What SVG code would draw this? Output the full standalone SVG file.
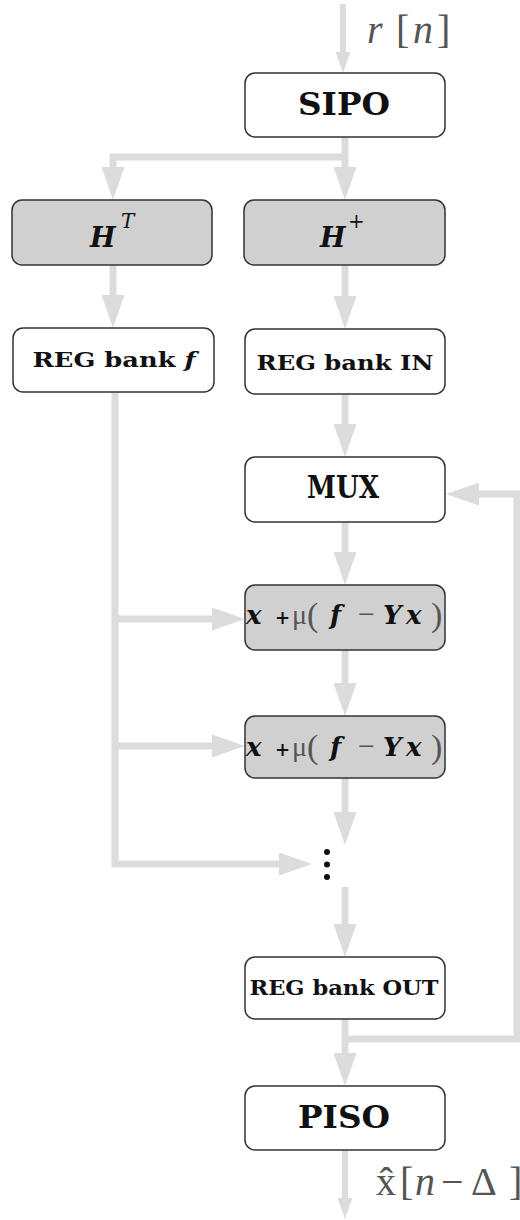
<svg xmlns="http://www.w3.org/2000/svg" width="520" height="1220" viewBox="0 0 520 1220">
<style>
.box{fill:#ffffff;stroke:#333333;stroke-width:1.5}
.gbox{fill:#d0d0d0;stroke:#333333;stroke-width:1.5}
.ln{fill:none;stroke:#dcdcdc;stroke-width:7;stroke-linejoin:miter}
.ln2{fill:none;stroke:#dcdcdc;stroke-width:6}
.mono{font-family:"DejaVu Serif","Liberation Serif",serif;font-weight:bold;fill:#111111}
.math{font-family:"Liberation Serif","Times New Roman",serif;fill:#555555}
.bi{font-family:"DejaVu Serif","Liberation Serif",serif;font-weight:bold;font-style:italic;fill:#111111}
</style>
<defs>
<marker id="ah" markerUnits="userSpaceOnUse" markerWidth="33" markerHeight="23" refX="1" refY="11.5" orient="auto">
<path d="M0,0 L33,11.5 L0,23 Z" fill="#dcdcdc"/>
</marker>
<marker id="ahs" markerUnits="userSpaceOnUse" markerWidth="21" markerHeight="15" refX="1" refY="7.5" orient="auto">
<path d="M0,0 L21,7.5 L0,15 Z" fill="#dcdcdc"/>
</marker>
</defs>

<g id="connectors">
<path class="ln2" d="M343,4 V53" marker-end="url(#ahs)"/>
<path class="ln" d="M345,137 V168" marker-end="url(#ah)"/>
<path class="ln" d="M345,157 H113 V168" marker-end="url(#ah)"/>
<path class="ln" d="M113,265 V296" marker-end="url(#ah)"/>
<path class="ln" d="M345,265 V297" marker-end="url(#ah)"/>
<path class="ln" d="M345,394 V425" marker-end="url(#ah)"/>
<path class="ln" d="M345,522 V553" marker-end="url(#ah)"/>
<path class="ln" d="M345,650 V684" marker-end="url(#ah)"/>
<path class="ln" d="M345,778 V813" marker-end="url(#ah)"/>
<path class="ln" d="M115,392 V864 H280" marker-end="url(#ah)"/>
<path class="ln" d="M115,619 H213" marker-end="url(#ah)"/>
<path class="ln" d="M115,746 H213" marker-end="url(#ah)"/>
<path class="ln" d="M345,887 V925" marker-end="url(#ah)"/>
<path class="ln" d="M345,1019 V1054" marker-end="url(#ah)"/>
<path class="ln" d="M345,1039 H517 V494 H478" marker-end="url(#ah)"/>
<path class="ln2" d="M345,1150 V1199" marker-end="url(#ahs)"/>
</g>

<g id="label-in">
<text class="math" font-size="40" y="43"><tspan x="367" font-style="italic">r</tspan><tspan x="396">[</tspan><tspan x="413" font-style="italic">n</tspan><tspan x="437">]</tspan></text>
</g>

<g id="sipo">
<rect class="box" x="245" y="73" width="200" height="64" rx="10"/>
<text class="mono" x="344" y="115" font-size="31" text-anchor="middle" textLength="92" lengthAdjust="spacingAndGlyphs">SIPO</text>
</g>

<g id="ht">
<rect class="gbox" x="12" y="200" width="200" height="65" rx="10"/>
<text class="bi" y="247" font-size="27"><tspan x="90">H</tspan><tspan x="121" y="228" font-size="20" font-weight="normal">T</tspan></text>
</g>

<g id="hplus">
<rect class="gbox" x="244" y="200" width="201" height="65" rx="10"/>
<text class="bi" y="247" font-size="27"><tspan x="320">H</tspan><tspan x="348" y="228" font-size="20" font-style="normal" font-weight="normal">+</tspan></text>
</g>

<g id="regf">
<rect class="box" x="13" y="328" width="201" height="64" rx="10"/>
<text class="mono" x="114" y="367" font-size="21" text-anchor="middle" textLength="163" lengthAdjust="spacingAndGlyphs">REG bank <tspan font-style="italic">f</tspan></text>
</g>

<g id="regin">
<rect class="box" x="245" y="329" width="200" height="65" rx="10"/>
<text class="mono" x="345" y="370" font-size="21" text-anchor="middle" textLength="177" lengthAdjust="spacingAndGlyphs">REG bank IN</text>
</g>

<g id="mux">
<rect class="box" x="245" y="457" width="200" height="65" rx="10"/>
<text class="mono" x="343" y="498" font-size="31" text-anchor="middle" textLength="72" lengthAdjust="spacingAndGlyphs">MUX</text>
</g>

<g id="update1">
<rect class="gbox" x="245" y="585" width="200" height="65" rx="10"/>
<text y="624" font-size="26"><tspan class="bi" x="246">x</tspan><tspan class="mono" x="275" font-size="18">+</tspan><tspan class="math" x="292" font-size="28">μ</tspan><tspan class="math" x="307" y="626" font-size="34">(</tspan><tspan class="bi" x="330" y="624">f</tspan><tspan class="math" x="358" font-size="30">−</tspan><tspan class="bi" x="383">Y</tspan><tspan class="bi" x="406">x</tspan><tspan class="math" x="431" y="626" font-size="34">)</tspan></text>
</g>

<g id="update2">
<rect class="gbox" x="245" y="716" width="200" height="62" rx="10"/>
<text y="756" font-size="26"><tspan class="bi" x="246">x</tspan><tspan class="mono" x="275" font-size="18">+</tspan><tspan class="math" x="292" font-size="28">μ</tspan><tspan class="math" x="307" y="758" font-size="34">(</tspan><tspan class="bi" x="330" y="756">f</tspan><tspan class="math" x="358" font-size="30">−</tspan><tspan class="bi" x="383">Y</tspan><tspan class="bi" x="406">x</tspan><tspan class="math" x="431" y="758" font-size="34">)</tspan></text>
</g>

<g id="dots" fill="#111111">
<circle cx="327" cy="852" r="3"/>
<circle cx="327" cy="864.5" r="3"/>
<circle cx="327" cy="877" r="3"/>
</g>

<g id="regout">
<rect class="box" x="245" y="957" width="200" height="62" rx="10"/>
<text class="mono" x="344" y="995" font-size="21" text-anchor="middle" textLength="189" lengthAdjust="spacingAndGlyphs">REG bank OUT</text>
</g>

<g id="piso">
<rect class="box" x="245" y="1086" width="200" height="64" rx="10"/>
<text class="mono" x="344" y="1128" font-size="31" text-anchor="middle" textLength="92" lengthAdjust="spacingAndGlyphs">PISO</text>
</g>

<g id="label-out">
<text class="math" font-size="40" y="1195"><tspan x="376">x̂</tspan><tspan x="400">[</tspan><tspan x="415" font-style="italic">n</tspan><tspan x="441">−</tspan><tspan x="471">Δ</tspan><tspan x="509">]</tspan></text>
</g>
</svg>
